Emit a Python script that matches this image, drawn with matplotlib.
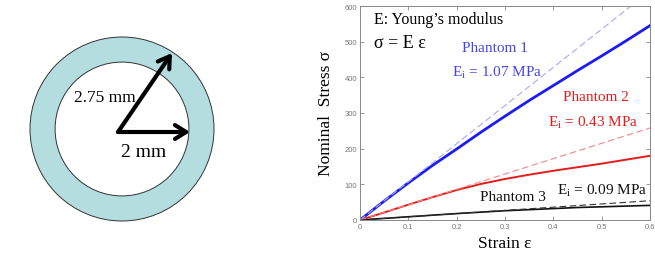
import matplotlib

matplotlib.use("Agg")
import matplotlib.pyplot as plt
from matplotlib.patches import Circle

strain = [0, 0.05, 0.1, 0.15, 0.2, 0.25, 0.3, 0.35, 0.4, 0.45, 0.5, 0.55, 0.6]
stress_p1 = [0, 53, 104, 153, 199, 246, 291, 335, 377, 419, 460, 502, 545]
stress_p2 = [0, 21, 43, 64, 84, 101, 115, 127, 138, 148, 158, 169, 180]
stress_p3 = [0, 4.5, 9, 13.5, 18, 22, 26, 29, 32, 35, 37, 39, 41]

moduli = [1.07, 0.43, 0.09]  # MPa, initial slopes (stress in kPa)
names = ["Phantom 1", "Phantom 2", "Phantom 3"]

outer_radius = 2.75
inner_radius = 2.0

SERIF = "Liberation Serif"
SANS = "Liberation Sans"

fig = plt.figure(figsize=(6.55, 2.55), dpi=100, facecolor="white")

# left: ring sketch, in pixel-like units
ax0 = fig.add_axes([0, 0, 300 / 655, 1])
ax0.set_xlim(0, 300)
ax0.set_ylim(255, 0)
ax0.axis("off")
scale = 92 / outer_radius
cx, cy = 122, 130
ax0.add_patch(Circle((cx, cy), outer_radius * scale, facecolor="#b4dde0", edgecolor="#333333", lw=0.7))
ax0.add_patch(Circle((cx, cy), inner_radius * scale, facecolor="white", edgecolor="#333333", lw=0.7))
ox, oy = 118, 133
for tx, ty in [(172, 54), (190, 133)]:
    ax0.annotate("", xy=(tx, ty), xytext=(ox, oy),
                 arrowprops=dict(arrowstyle="->,head_length=0.8,head_width=0.5", lw=3, color="black",
                                 shrinkA=0, shrinkB=0))
ax0.text(105, 98, "2.75 mm", family=SERIF, fontsize=12.5, ha="center", va="center")
ax0.text(144, 153, "2 mm", family=SERIF, fontsize=14, ha="center", va="center")

# right: stress-strain curves
ax = fig.add_axes([360 / 655, 34 / 255, 290 / 655, 214 / 255])
line_colors = ["#1c1cf0", "#e41c1c", "#111111"]
line_widths = [2.0, 1.4, 1.2]
dash_colors = ["#a8a8f2", "#f28888", "#333333"]
for ys, c, w in zip([stress_p1, stress_p2, stress_p3], line_colors, line_widths):
    ax.plot(strain, ys, color=c, lw=w)
for e, c in zip(moduli, dash_colors):
    ax.plot([0, 0.6], [0, e * 1000 * 0.6], color=c, lw=0.8, ls=(0, (6, 3)))

ax.set_xlim(0, 0.6)
ax.set_ylim(0, 600)
ax.set_xticks([0, 0.1, 0.2, 0.3, 0.4, 0.5, 0.6])
ax.set_xticklabels(["0", "0.1", "0.2", "0.3", "0.4", "0.5", "0.6"])
ax.set_yticks(range(0, 601, 100))
ax.tick_params(direction="in", length=3, width=0.6, colors="#888888", labelsize=5.5,
               top=True, right=True, pad=2)
for lab in ax.get_xticklabels() + ax.get_yticklabels():
    lab.set_family(SANS)
    lab.set_color("#777777")
for s in ax.spines.values():
    s.set_color("#888888")
    s.set_linewidth(0.7)

ax.set_xlabel("Strain ε", family=SERIF, fontsize=12.5, labelpad=4)
ax.set_ylabel("Nominal  Stress σ", family=SERIF, fontsize=12.5, labelpad=8)

ax.text(0.029, 563, "E: Young’s modulus", family=SERIF, fontsize=11.5, va="center")
ax.text(0.029, 499, "σ = E ε", family=SERIF, fontsize=13, va="center")
ax.text(0.279, 485, names[0], family=SERIF, fontsize=11, color="#4646e6", ha="center", va="center")
ax.text(0.283, 417, "E$_\\mathregular{i}$ = 1.07 MPa", family=SERIF, fontsize=11, color="#4646e6",
        ha="center", va="center")
ax.text(0.488, 345, names[1], family=SERIF, fontsize=11, color="#e41c1c", ha="center", va="center")
ax.text(0.482, 277, "E$_\\mathregular{i}$ = 0.43 MPa", family=SERIF, fontsize=11, color="#e41c1c",
        ha="center", va="center")
ax.text(0.317, 67, names[2], family=SERIF, fontsize=11, color="#111111", ha="center", va="center")
ax.text(0.50, 84, "E$_\\mathregular{i}$ = 0.09 MPa", family=SERIF, fontsize=11, color="#111111",
        ha="center", va="center")

fig.savefig("out.png", dpi=100, facecolor="white")
